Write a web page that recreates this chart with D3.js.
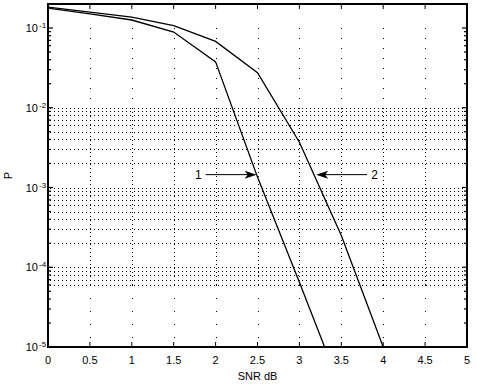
<!DOCTYPE html>
<html>
<head>
<meta charset="utf-8">
<script src="https://cdn.jsdelivr.net/npm/d3@7"></script>
<style>
  body { margin: 0; background: #fff; }
  svg { display: block; font-family: "Liberation Sans", Arial, sans-serif; }
  .tick-label { font-size: 11px; fill: #000; }
  .axis-title { font-size: 11px; fill: #000; }
</style>
</head>
<body>
<svg id="chart"></svg>
<script>
// values
const snr = [0, 0.5, 1, 1.5, 2, 2.5, 3, 3.5, 4];
const curve1 = [0.178, 0.150, 0.126, 0.089, 0.0376, 1.35e-3, 6.5e-5, 2.9e-6];
const curve2 = [0.183, 0.158, 0.137, 0.107, 0.068, 0.0275, 3.7e-3, 2.5e-4, 1.0e-5];

const xTicks = [0, 0.5, 1, 1.5, 2, 2.5, 3, 3.5, 4, 4.5, 5];
const xTickLabels = ['0', '0.5', '1', '1.5', '2', '2.5', '3', '3.5', '4', '4.5', '5'];
const yDecades = [1e-1, 1e-2, 1e-3, 1e-4, 1e-5];
const yDecadeExp = ['-1', '-2', '-3', '-4', '-5'];
// horizontal dotted grid rows visible in the figure
const yGridRows = [
  1e-2, 9e-3, 8e-3, 7e-3, 6e-3, 5e-3, 4e-3, 3e-3, 2e-3,
  1e-3, 9e-4, 8e-4, 7e-4, 6e-4, 5e-4, 4e-4, 3e-4, 2e-4,
  1e-4, 9e-5, 8e-5, 7e-5, 6e-5
];
const labels = [
  {text: '1', x: 2.49, y: 1.45e-3, dir: 1},
  {text: '2', x: 3.2, y: 1.45e-3, dir: -1}
];

const width = 477, height = 387;
const margin = {top: 4, right: 10, bottom: 40, left: 48};

const svg = d3.select('#chart')
    .attr('width', width)
    .attr('height', height);

const xScale = d3.scaleLinear()
    .domain([0, 5])
    .range([margin.left, width - margin.right]);

const yScale = d3.scaleLog()
    .domain([1e-5, 0.2])
    .range([height - margin.bottom, margin.top]);

const x0 = xScale(0), x1 = xScale(5);
const yTop = yScale(0.2), yBot = yScale(1e-5);

// minor ticks for every decade
const minorTicks = [];
[-5, -4, -3, -2, -1].forEach(e => {
  for (let m = 1; m < 10; m++) {
    const v = m * Math.pow(10, e);
    if (v <= 0.2) minorTicks.push(v);
  }
});

const grid = svg.append('g')
    .attr('stroke', '#000')
    .attr('stroke-width', 1)
    .attr('shape-rendering', 'crispEdges');

// vertical grid: dense between 1e-2 and 6e-5, sparse elsewhere
const innerX = xTicks.slice(1, -1);
grid.selectAll('.vgrid-dense')
    .data(innerX)
  .join('line')
    .attr('x1', d => Math.round(xScale(d)) + 0.5)
    .attr('x2', d => Math.round(xScale(d)) + 0.5)
    .attr('y1', yScale(1e-2))
    .attr('y2', yScale(6e-5))
    .attr('stroke-dasharray', '1,3');

grid.selectAll('.vgrid-top')
    .data(innerX)
  .join('line')
    .attr('x1', d => Math.round(xScale(d)) + 0.5)
    .attr('x2', d => Math.round(xScale(d)) + 0.5)
    .attr('y1', yTop + 24)
    .attr('y2', yScale(1e-2))
    .attr('stroke-dasharray', '1,9');

grid.selectAll('.vgrid-bot')
    .data(innerX)
  .join('line')
    .attr('x1', d => Math.round(xScale(d)) + 0.5)
    .attr('x2', d => Math.round(xScale(d)) + 0.5)
    .attr('y1', yScale(6e-5))
    .attr('y2', yBot)
    .attr('stroke-dasharray', '1,12');

grid.selectAll('.hgrid')
    .data(yGridRows)
  .join('line')
    .attr('x1', x0 + 2)
    .attr('x2', x1 - 2)
    .attr('y1', d => Math.round(yScale(d)) + 0.5)
    .attr('y2', d => Math.round(yScale(d)) + 0.5)
    .attr('stroke-dasharray', '1,3');

// curves
const plot = svg.append('g');
svg.append('clipPath').attr('id', 'clip')
  .append('rect')
    .attr('x', x0).attr('y', yTop)
    .attr('width', x1 - x0).attr('height', yBot - yTop);

const line = d3.line()
    .x((d, i) => xScale(snr[i]))
    .y(d => yScale(d));

plot.selectAll('.curve')
    .data([curve1, curve2])
  .join('path')
    .attr('class', 'curve')
    .attr('clip-path', 'url(#clip)')
    .attr('d', line)
    .attr('fill', 'none')
    .attr('stroke', '#000')
    .attr('stroke-width', 1.3);

// axes box and ticks
const box = svg.append('g').attr('stroke', '#000');
box.append('rect')
    .attr('x', x0).attr('y', yTop)
    .attr('width', x1 - x0).attr('height', yBot - yTop)
    .attr('fill', 'none')
    .attr('stroke-width', 2);

box.selectAll('.xtick-b')
    .data(xTicks)
  .join('line')
    .attr('x1', d => xScale(d)).attr('x2', d => xScale(d))
    .attr('y1', yBot).attr('y2', yBot - 5)
    .attr('stroke-width', 1);
box.selectAll('.xtick-t')
    .data(xTicks)
  .join('line')
    .attr('x1', d => xScale(d)).attr('x2', d => xScale(d))
    .attr('y1', yTop).attr('y2', yTop + 5)
    .attr('stroke-width', 1);

box.selectAll('.ytick-l')
    .data(minorTicks)
  .join('line')
    .attr('x1', x0).attr('x2', d => x0 + (yDecades.includes(d) ? 5 : 3))
    .attr('y1', d => yScale(d)).attr('y2', d => yScale(d))
    .attr('stroke-width', 1.2);
box.selectAll('.ytick-r')
    .data(minorTicks)
  .join('line')
    .attr('x1', x1).attr('x2', d => x1 - (yDecades.includes(d) ? 5 : 3))
    .attr('y1', d => yScale(d)).attr('y2', d => yScale(d))
    .attr('stroke-width', 1.2);

// tick labels
svg.selectAll('.xlab')
    .data(xTicks)
  .join('text')
    .attr('class', 'tick-label')
    .attr('x', d => xScale(d))
    .attr('y', yBot + 17)
    .attr('text-anchor', 'middle')
    .text((d, i) => xTickLabels[i]);

const ylab = svg.selectAll('.ylab')
    .data(yDecades)
  .join('text')
    .attr('class', 'tick-label')
    .attr('x', 38)
    .attr('y', d => yScale(d) + 4)
    .attr('text-anchor', 'end')
    .text('10');
svg.selectAll('.ysup')
    .data(yDecades)
  .join('text')
    .attr('class', 'tick-label')
    .attr('x', 39)
    .attr('y', d => yScale(d))
    .style('font-size', '8px')
    .text((d, i) => yDecadeExp[i]);

// axis titles
svg.append('text')
    .attr('class', 'axis-title')
    .attr('x', (x0 + x1) / 2)
    .attr('y', yBot + 33)
    .attr('text-anchor', 'middle')
    .text('SNR dB');
svg.append('text')
    .attr('class', 'axis-title')
    .attr('transform', `translate(12,${(yTop + yBot) / 2}) rotate(-90)`)
    .attr('text-anchor', 'middle')
    .text('P');

// curve labels with arrows
labels.forEach(l => {
  const tx = xScale(l.x), ty = yScale(l.y);
  const tail = tx - l.dir * 51;
  svg.append('line')
      .attr('x1', tail).attr('x2', tx - l.dir * 8)
      .attr('y1', ty).attr('y2', ty)
      .attr('stroke', '#000').attr('stroke-width', 1);
  svg.append('path')
      .attr('d', `M${tx},${ty} L${tx - l.dir * 12},${ty - 4} L${tx - l.dir * 9},${ty} L${tx - l.dir * 12},${ty + 4} Z`)
      .attr('fill', '#000');
  svg.append('text')
      .attr('class', 'axis-title')
      .style('font-size', '12px')
      .attr('x', tail - l.dir * 4)
      .attr('y', ty + 4)
      .attr('text-anchor', l.dir > 0 ? 'end' : 'start')
      .text(l.text);
});
</script>
</body>
</html>
